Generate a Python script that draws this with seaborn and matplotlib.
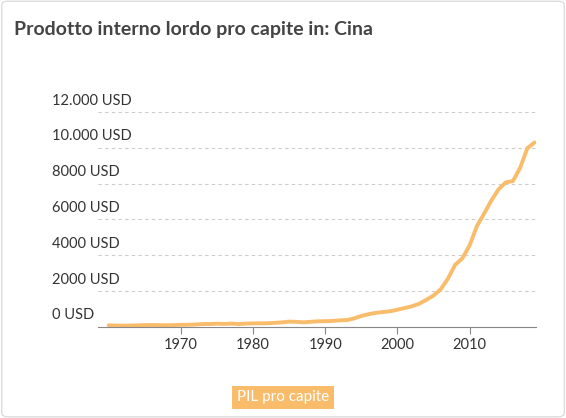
import matplotlib
matplotlib.use("Agg")
import matplotlib.pyplot as plt
import seaborn as sns
import pandas as pd
from matplotlib.patches import FancyBboxPatch
from matplotlib.transforms import blended_transform_factory

years = list(range(1960, 2020))
gdp = [90, 76, 70, 74, 85, 98, 104, 97, 91, 100,
       113, 119, 132, 157, 160, 178, 165, 185, 156, 184,
       195, 197, 203, 225, 251, 294, 282, 252, 284, 311,
       318, 333, 366, 377, 473, 610, 709, 782, 829, 873,
       959, 1053, 1149, 1289, 1509, 1753, 2099, 2694, 3468, 3832,
       4550, 5618, 6317, 7051, 7679, 8067, 8148, 8879, 9977, 10300]
ytick_vals = [0, 2000, 4000, 6000, 8000, 10000, 12000]
ytick_labels = ["0 USD", "2000 USD", "4000 USD", "6000 USD", "8000 USD", "10.000 USD", "12.000 USD"]
xtick_vals = [1970, 1980, 1990, 2000, 2010]

sns.set_style("white")
plt.rcParams['font.family'] = ['Lato', 'DejaVu Sans']

df = pd.DataFrame({"year": years, "gdp": gdp})
fig = plt.figure(figsize=(5.66, 4.18), dpi=100)
fig.patches.append(FancyBboxPatch((0.003, 0.003), 0.994, 0.994, boxstyle="round,pad=0,rounding_size=0.01",
                                  transform=fig.transFigure, fc="none", ec="#dddddd", lw=1))
ax = fig.add_axes([0.173, 0.218, 0.774, 0.514])
ax.patch.set_alpha(0)
sns.lineplot(data=df, x="year", y="gdp", ax=ax, color="#f9bc6b", lw=2.8)
ax.set_xlim(1958.5, 2019.2)
ax.set_ylim(0, 12000)
for v in ytick_vals[1:]:
    ax.axhline(v, color="#cccccc", lw=0.8, ls=(0, (3, 3)), zorder=0)
tr = blended_transform_factory(fig.transFigure, ax.transData)
for v, lab in zip(ytick_vals, ytick_labels):
    ax.text(0.092, v + 250, lab, transform=tr, ha="left", va="bottom", fontsize=10.5, color="#333333")
ax.set_yticks([])
ax.set_xticks(xtick_vals)
ax.set_xticklabels([str(x) for x in xtick_vals], fontsize=10.5, color="#333333")
ax.tick_params(axis="x", length=5, color="#888888", pad=3, bottom=True)
for s in ["top", "right", "left"]:
    ax.spines[s].set_visible(False)
ax.spines["bottom"].set_color("#888888")
ax.set_xlabel("")
ax.set_ylabel("")

fig.text(0.024, 0.93, "Prodotto interno lordo pro capite in: Cina", fontsize=14,
         fontweight="bold", color="#444444", va="center")
leg = fig.text(0.5, 0.05, "PIL pro capite", fontsize=11, color="white", ha="center", va="center",
               bbox=dict(boxstyle="square,pad=0.3", fc="#f9bc6b", ec="none"))
leg.set_fontproperties(leg.get_fontproperties())
fig.savefig("out.png", dpi=100)
